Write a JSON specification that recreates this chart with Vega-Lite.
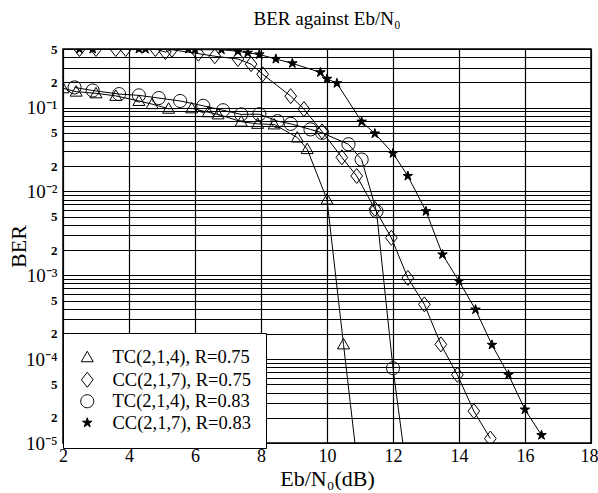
{
  "$schema": "https://vega.github.io/schema/vega-lite/v6.json",
  "width": 528,
  "height": 394,
  "autosize": {"type": "none"},
  "padding": {"left": 63, "top": 49, "right": 7, "bottom": 50},
  "background": "white",
  "title": {"text": "BER against Eb/N₀", "font": "Liberation Serif", "fontSize": 19, "fontWeight": "normal", "color": "black", "offset": 14, "anchor": "middle"},
  "config": {
    "view": {"stroke": "black", "strokeWidth": 1.5},
    "axis": {"labelFont": "Liberation Serif", "titleFont": "Liberation Serif", "labelColor": "black", "titleColor": "black", "gridColor": "black", "gridOpacity": 1, "gridWidth": 1.2, "ticks": false, "domain": false, "titleFontWeight": "normal"},
    "legend": {"title": null, "orient": "none", "legendX": 0, "legendY": 284, "padding": 15, "fillColor": "white", "strokeColor": "black", "labelFont": "Liberation Serif", "labelFontSize": 18.5, "labelColor": "black", "labelLimit": 300, "symbolSize": 225, "symbolStrokeWidth": 1, "labelOffset": 16, "rowPadding": 2.5}
  },
  "data": {"values": [
    {"s": "TC(2,1,4), R=0.75", "x": 2.0, "ber": 0.17},
    {"s": "TC(2,1,4), R=0.75", "x": 2.4, "ber": 0.155},
    {"s": "TC(2,1,4), R=0.75", "x": 3.0, "ber": 0.148},
    {"s": "TC(2,1,4), R=0.75", "x": 3.6, "ber": 0.138},
    {"s": "TC(2,1,4), R=0.75", "x": 4.3, "ber": 0.12},
    {"s": "TC(2,1,4), R=0.75", "x": 4.7, "ber": 0.11},
    {"s": "TC(2,1,4), R=0.75", "x": 5.2, "ber": 0.097},
    {"s": "TC(2,1,4), R=0.75", "x": 5.9, "ber": 0.098},
    {"s": "TC(2,1,4), R=0.75", "x": 6.4, "ber": 0.088},
    {"s": "TC(2,1,4), R=0.75", "x": 6.7, "ber": 0.083},
    {"s": "TC(2,1,4), R=0.75", "x": 7.4, "ber": 0.068},
    {"s": "TC(2,1,4), R=0.75", "x": 7.9, "ber": 0.064},
    {"s": "TC(2,1,4), R=0.75", "x": 8.4, "ber": 0.063},
    {"s": "TC(2,1,4), R=0.75", "x": 9.1, "ber": 0.044},
    {"s": "TC(2,1,4), R=0.75", "x": 9.4, "ber": 0.032},
    {"s": "TC(2,1,4), R=0.75", "x": 10.0, "ber": 0.008},
    {"s": "TC(2,1,4), R=0.75", "x": 10.5, "ber": 0.00015},
    {"s": "TC(2,1,4), R=0.75", "x": 11.0, "ber": 0.000003},
    {"s": "CC(2,1,7), R=0.75", "x": 2.5, "ber": 0.5},
    {"s": "CC(2,1,7), R=0.75", "x": 3.0, "ber": 0.5},
    {"s": "CC(2,1,7), R=0.75", "x": 3.6, "ber": 0.5},
    {"s": "CC(2,1,7), R=0.75", "x": 3.9, "ber": 0.5},
    {"s": "CC(2,1,7), R=0.75", "x": 4.8, "ber": 0.5},
    {"s": "CC(2,1,7), R=0.75", "x": 5.1, "ber": 0.46},
    {"s": "CC(2,1,7), R=0.75", "x": 5.3, "ber": 0.49},
    {"s": "CC(2,1,7), R=0.75", "x": 6.1, "ber": 0.44},
    {"s": "CC(2,1,7), R=0.75", "x": 6.6, "ber": 0.41},
    {"s": "CC(2,1,7), R=0.75", "x": 7.3, "ber": 0.38},
    {"s": "CC(2,1,7), R=0.75", "x": 7.7, "ber": 0.33},
    {"s": "CC(2,1,7), R=0.75", "x": 8.05, "ber": 0.25},
    {"s": "CC(2,1,7), R=0.75", "x": 8.9, "ber": 0.137},
    {"s": "CC(2,1,7), R=0.75", "x": 9.3, "ber": 0.096},
    {"s": "CC(2,1,7), R=0.75", "x": 9.85, "ber": 0.052},
    {"s": "CC(2,1,7), R=0.75", "x": 10.45, "ber": 0.0255},
    {"s": "CC(2,1,7), R=0.75", "x": 10.9, "ber": 0.0153},
    {"s": "CC(2,1,7), R=0.75", "x": 11.45, "ber": 0.0062},
    {"s": "CC(2,1,7), R=0.75", "x": 11.95, "ber": 0.0028},
    {"s": "CC(2,1,7), R=0.75", "x": 12.45, "ber": 0.00093},
    {"s": "CC(2,1,7), R=0.75", "x": 12.95, "ber": 0.00045},
    {"s": "CC(2,1,7), R=0.75", "x": 13.45, "ber": 0.00015},
    {"s": "CC(2,1,7), R=0.75", "x": 13.95, "ber": 0.000065},
    {"s": "CC(2,1,7), R=0.75", "x": 14.45, "ber": 0.000024},
    {"s": "CC(2,1,7), R=0.75", "x": 14.95, "ber": 0.0000113},
    {"s": "TC(2,1,4), R=0.83", "x": 2.35, "ber": 0.174},
    {"s": "TC(2,1,4), R=0.83", "x": 2.9, "ber": 0.16},
    {"s": "TC(2,1,4), R=0.83", "x": 3.7, "ber": 0.145},
    {"s": "TC(2,1,4), R=0.83", "x": 4.3, "ber": 0.14},
    {"s": "TC(2,1,4), R=0.83", "x": 4.9, "ber": 0.13},
    {"s": "TC(2,1,4), R=0.83", "x": 5.55, "ber": 0.12},
    {"s": "TC(2,1,4), R=0.83", "x": 6.25, "ber": 0.105},
    {"s": "TC(2,1,4), R=0.83", "x": 6.85, "ber": 0.093},
    {"s": "TC(2,1,4), R=0.83", "x": 7.4, "ber": 0.083},
    {"s": "TC(2,1,4), R=0.83", "x": 7.95, "ber": 0.0835},
    {"s": "TC(2,1,4), R=0.83", "x": 8.5, "ber": 0.069},
    {"s": "TC(2,1,4), R=0.83", "x": 8.9, "ber": 0.064},
    {"s": "TC(2,1,4), R=0.83", "x": 9.5, "ber": 0.055},
    {"s": "TC(2,1,4), R=0.83", "x": 9.85, "ber": 0.05},
    {"s": "TC(2,1,4), R=0.83", "x": 10.65, "ber": 0.0366},
    {"s": "TC(2,1,4), R=0.83", "x": 11.05, "ber": 0.024},
    {"s": "TC(2,1,4), R=0.83", "x": 11.5, "ber": 0.0058},
    {"s": "TC(2,1,4), R=0.83", "x": 12.0, "ber": 0.000078},
    {"s": "TC(2,1,4), R=0.83", "x": 12.5, "ber": 0.0000025},
    {"s": "CC(2,1,7), R=0.83", "x": 2.5, "ber": 0.5},
    {"s": "CC(2,1,7), R=0.83", "x": 2.9, "ber": 0.5},
    {"s": "CC(2,1,7), R=0.83", "x": 4.3, "ber": 0.5},
    {"s": "CC(2,1,7), R=0.83", "x": 4.5, "ber": 0.5},
    {"s": "CC(2,1,7), R=0.83", "x": 5.8, "ber": 0.5},
    {"s": "CC(2,1,7), R=0.83", "x": 6.0, "ber": 0.49},
    {"s": "CC(2,1,7), R=0.83", "x": 6.8, "ber": 0.49},
    {"s": "CC(2,1,7), R=0.83", "x": 7.3, "ber": 0.47},
    {"s": "CC(2,1,7), R=0.83", "x": 7.6, "ber": 0.45},
    {"s": "CC(2,1,7), R=0.83", "x": 7.95, "ber": 0.43},
    {"s": "CC(2,1,7), R=0.83", "x": 8.45, "ber": 0.38},
    {"s": "CC(2,1,7), R=0.83", "x": 8.95, "ber": 0.337},
    {"s": "CC(2,1,7), R=0.83", "x": 9.8, "ber": 0.263},
    {"s": "CC(2,1,7), R=0.83", "x": 10.0, "ber": 0.22},
    {"s": "CC(2,1,7), R=0.83", "x": 10.3, "ber": 0.195},
    {"s": "CC(2,1,7), R=0.83", "x": 11.05, "ber": 0.068},
    {"s": "CC(2,1,7), R=0.83", "x": 11.45, "ber": 0.049},
    {"s": "CC(2,1,7), R=0.83", "x": 12.0, "ber": 0.0285},
    {"s": "CC(2,1,7), R=0.83", "x": 12.45, "ber": 0.0153},
    {"s": "CC(2,1,7), R=0.83", "x": 13.0, "ber": 0.0058},
    {"s": "CC(2,1,7), R=0.83", "x": 13.5, "ber": 0.00177},
    {"s": "CC(2,1,7), R=0.83", "x": 14.0, "ber": 0.00085},
    {"s": "CC(2,1,7), R=0.83", "x": 14.5, "ber": 0.00039},
    {"s": "CC(2,1,7), R=0.83", "x": 15.0, "ber": 0.000148},
    {"s": "CC(2,1,7), R=0.83", "x": 15.5, "ber": 0.000065},
    {"s": "CC(2,1,7), R=0.83", "x": 16.0, "ber": 0.000025},
    {"s": "CC(2,1,7), R=0.83", "x": 16.5, "ber": 0.0000124}
  ]},
  "encoding": {
    "x": {"field": "x", "type": "quantitative", "scale": {"domain": [2, 18], "nice": false, "zero": false},
      "axis": {"values": [2, 4, 6, 8, 10, 12, 14, 16, 18], "title": "Eb/N₀(dB)", "titleFontSize": 22, "titlePadding": 3, "labelFontSize": 18, "labelPadding": 4, "labelFlush": false,
        "labelAlign": {"condition": {"test": "datum.value == 18", "value": "right"}, "value": "center"},
        "labelOffset": {"condition": {"test": "datum.value == 18", "value": 7}, "value": 0}}},
    "y": {"field": "ber", "type": "quantitative", "scale": {"type": "log", "domain": [0.00001, 0.5], "nice": false},
      "axis": {"title": "BER", "titleFontSize": 22, "titleX": -38, "titleY": 197, "titleAngle": -90, "titleAlign": "center", "titleBaseline": "alphabetic",
        "values": [0.00001,0.00002,0.00003,0.00004,0.00005,0.00006,0.00007,0.00008,0.00009,0.0001,0.0002,0.0003,0.0004,0.0005,0.0006,0.0007,0.0008,0.0009,0.001,0.002,0.003,0.004,0.005,0.006,0.007,0.008,0.009,0.01,0.02,0.03,0.04,0.05,0.06,0.07,0.08,0.09,0.1,0.2,0.3,0.4,0.5],
        "labelExpr": "round(datum.value / pow(10, floor(log(datum.value)/LN10 + 0.000001))) == 1 ? '10' + ['⁰','⁻¹','⁻²','⁻³','⁻⁴','⁻⁵'][-floor(log(datum.value)/LN10 + 0.000001)] : ((round(datum.value / pow(10, floor(log(datum.value)/LN10 + 0.000001))) == 2 || round(datum.value / pow(10, floor(log(datum.value)/LN10 + 0.000001))) == 5) ? '' + round(datum.value / pow(10, floor(log(datum.value)/LN10 + 0.000001))) : '')",
        "labelFontSize": {"condition": {"test": "abs(log(datum.value)/LN10 - round(log(datum.value)/LN10)) < 0.000001", "value": 19}, "value": 13},
        "labelFontWeight": {"condition": {"test": "abs(log(datum.value)/LN10 - round(log(datum.value)/LN10)) < 0.000001", "value": "normal"}, "value": "bold"},
        "labelPadding": 6}}
  },
  "layer": [
    {"mark": {"type": "line", "color": "black", "strokeWidth": 1, "clip": true},
     "encoding": {"detail": {"field": "s", "type": "nominal"}}},
    {"mark": {"type": "point", "strokeWidth": 1, "opacity": 1, "size": 225, "clip": true},
     "encoding": {
       "shape": {"field": "s", "type": "nominal", "scale": {"domain": ["TC(2,1,4), R=0.75", "CC(2,1,7), R=0.75", "TC(2,1,4), R=0.83", "CC(2,1,7), R=0.83"], "range": ["M0,-0.8L0.8,0.6L-0.8,0.6Z", "M0,-1L0.78,0L0,1L-0.78,0Z", "M0.87,0A0.87,0.87,0,1,1,-0.87,0A0.87,0.87,0,1,1,0.87,0Z", "M0,-0.67L0.147,-0.208L0.637,-0.208L0.241,0.08L0.395,0.543L0,0.255L-0.395,0.543L-0.241,0.08L-0.637,-0.208L-0.147,-0.208Z"]}},
       "fill": {"field": "s", "type": "nominal", "scale": {"domain": ["TC(2,1,4), R=0.75", "CC(2,1,7), R=0.75", "TC(2,1,4), R=0.83", "CC(2,1,7), R=0.83"], "range": ["transparent", "transparent", "transparent", "black"]}},
       "stroke": {"field": "s", "type": "nominal", "scale": {"domain": ["TC(2,1,4), R=0.75", "CC(2,1,7), R=0.75", "TC(2,1,4), R=0.83", "CC(2,1,7), R=0.83"], "range": ["black", "black", "black", "black"]}}
     }}
  ]
}
